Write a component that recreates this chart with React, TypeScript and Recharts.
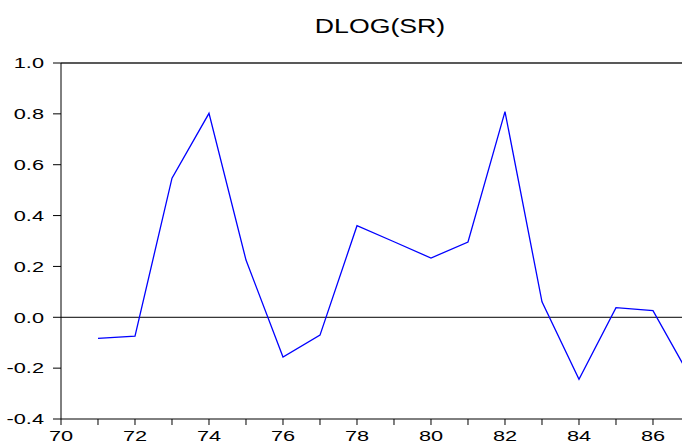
import React from 'react';
import { LineChart, Line, XAxis, YAxis, ReferenceLine } from 'recharts';

const years = [71, 72, 73, 74, 75, 76, 77, 78, 79, 80, 81, 82, 83, 84, 85, 86, 87];
const dlogSR = [-0.083, -0.074, 0.547, 0.802, 0.225, -0.156, -0.07, 0.36, 0.297, 0.233, 0.296, 0.809, 0.061, -0.244, 0.038, 0.026, -0.233];
const xTicks = [70, 71, 72, 73, 74, 75, 76, 77, 78, 79, 80, 81, 82, 83, 84, 85, 86];
const yTicks = [-0.4, -0.2, 0.0, 0.2, 0.4, 0.6, 0.8, 1.0];
const title = 'DLOG(SR)';

const data = years.map((year, i) => ({ year, v: dlogSR[i] }));

const FONT = '"Liberation Sans", Arial, sans-serif';

const XTick = (props: any) => {
  const { x, y, payload } = props;
  if (payload.value % 2 !== 0) return <g />;
  return (
    <g transform={`translate(${x},${y + 14})`}>
      <text x={0} y={0} textAnchor="middle" fontSize={15} fontFamily={FONT} fill="#000" transform="scale(1.45,1)">
        {payload.value}
      </text>
    </g>
  );
};

const YTick = (props: any) => {
  const { x, y, payload } = props;
  return (
    <g transform={`translate(${x},${y + 5.3})`}>
      <text x={0} y={0} textAnchor="end" fontSize={15} fontFamily={FONT} fill="#000" transform="scale(1.45,1)">
        {Number(payload.value).toFixed(1)}
      </text>
    </g>
  );
};

export default function App() {
  return (
    <div style={{ position: 'absolute', left: 0, top: 0, width: 682, height: 444, background: '#fff' }}>
      <LineChart width={682} height={444} data={data} margin={{ top: 63, right: 0, bottom: 0, left: 0 }}>
        <XAxis
          dataKey="year"
          type="number"
          domain={[70, 86.784]}
          allowDataOverflow
          ticks={xTicks}
          interval={0}
          height={25}
          tickSize={6}
          tickMargin={2}
          axisLine={{ stroke: '#000', strokeWidth: 1 }}
          tickLine={{ stroke: '#000', strokeWidth: 1 }}
          tick={<XTick />}
        />
        <YAxis
          type="number"
          domain={[-0.4, 1.0]}
          ticks={yTicks}
          interval={0}
          width={61}
          tickSize={8}
          tickMargin={9}
          axisLine={{ stroke: '#000', strokeWidth: 1 }}
          tickLine={{ stroke: '#000', strokeWidth: 1 }}
          tick={<YTick />}
        />
        <ReferenceLine y={1.0} stroke="#222" strokeWidth={1.6} />
        <ReferenceLine y={0} stroke="#000" strokeWidth={1} />
        <Line type="linear" dataKey="v" stroke="#0000ff" strokeWidth={1.3} dot={false} isAnimationActive={false} />
      </LineChart>
      <svg width={682} height={444} style={{ position: 'absolute', left: 0, top: 0, pointerEvents: 'none' }}>
        <g transform="translate(380,32.7)">
          <text x={0} y={0} textAnchor="middle" fontSize={21} fontFamily={FONT} fill="#000" transform="scale(1.27,1)">
            {title}
          </text>
        </g>
      </svg>
    </div>
  );
}
